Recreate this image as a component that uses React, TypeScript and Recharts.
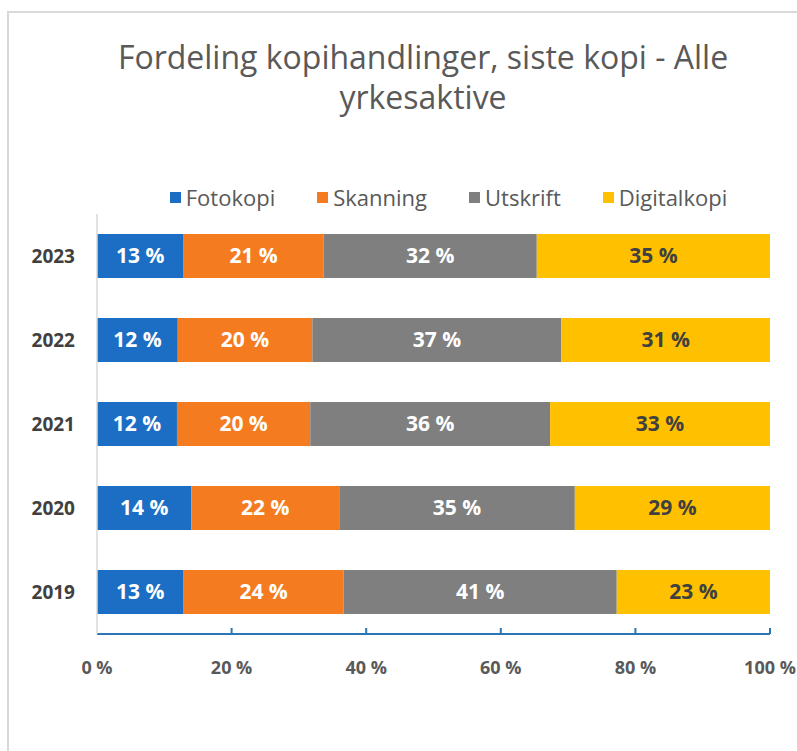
import { BarChart, Bar, XAxis, YAxis, LabelList } from "recharts";

const years = ["2023", "2022", "2021", "2020", "2019"];
const fotokopi = [13, 12, 12, 14, 13];
const skanning = [21, 20, 20, 22, 24];
const utskrift = [32, 37, 36, 35, 41];
const digitalkopi = [35, 31, 33, 29, 23];
const xTicks = [0, 0.2, 0.4, 0.6, 0.8, 1];

const series = [
  { key: "fotokopi", name: "Fotokopi", color: "#1C6EC4", text: "#ffffff" },
  { key: "skanning", name: "Skanning", color: "#F47B20", text: "#ffffff" },
  { key: "utskrift", name: "Utskrift", color: "#7F7F7F", text: "#ffffff" },
  { key: "digitalkopi", name: "Digitalkopi", color: "#FFC000", text: "#404040" },
];

const data = years.map((year, i) => ({
  year,
  fotokopi: fotokopi[i],
  skanning: skanning[i],
  utskrift: utskrift[i],
  digitalkopi: digitalkopi[i],
}));

const FONT = "'Open Sans', sans-serif";
const TICK_GAP = 34;

// x ticks drawn by hand so the tick marks point up into the plot
const XTick = ({ x, y, payload }: any) => {
  const axisY = y - TICK_GAP;
  return (
    <g>
      {payload.value > 0 && (
        <line x1={x} x2={x} y1={axisY} y2={axisY - 6} stroke="#2E75B6" strokeWidth={2} />
      )}
      <text
        x={x}
        y={y}
        dy="0.35em"
        textAnchor="middle"
        fill="#595959"
        fontSize={18}
        fontWeight={700}
        fontFamily={FONT}
      >
        {`${Math.round(payload.value * 100)} %`}
      </text>
    </g>
  );
};

export default function App() {
  return (
    <div
      style={{
        position: "absolute",
        left: 0,
        top: 0,
        width: 797,
        height: 751,
        overflow: "hidden",
        background: "#fff",
        fontFamily: FONT,
      }}
    >
      {/* frame */}
      <div
        style={{
          position: "absolute",
          left: 7,
          top: 11,
          width: 840,
          height: 800,
          border: "2px solid #D9D9D9",
        }}
      />

      {/* Title */}
      <div
        style={{
          position: "absolute",
          left: 0,
          top: 37,
          width: 846,
          textAlign: "center",
          fontSize: 32,
          lineHeight: "40px",
          color: "#595959",
        }}
      >
        Fordeling kopihandlinger, siste kopi - Alle
        <br />
        yrkesaktive
      </div>

      {/* Legend */}
      <div
        style={{
          position: "absolute",
          left: 0,
          top: 182,
          width: 797,
          display: "flex",
          justifyContent: "center",
          paddingLeft: 100,
          boxSizing: "border-box",
          gap: 42,
          fontSize: 22,
          color: "#595959",
        }}
      >
        {series.map((s) => (
          <div key={s.key} style={{ display: "flex", alignItems: "center", gap: 5 }}>
            <span style={{ width: 11, height: 11, background: s.color, display: "inline-block" }} />
            <span>{s.name}</span>
          </div>
        ))}
      </div>

      <div style={{ position: "absolute", left: 0, top: 0 }}>
        <BarChart
          width={797}
          height={751}
          data={data}
          layout="vertical"
          stackOffset="expand"
          barSize={44}
          margin={{ top: 214, right: 27, bottom: 57, left: 0 }}
        >
          <XAxis
            type="number"
            domain={[0, 1]}
            ticks={xTicks}
            interval={0}
            axisLine={{ stroke: "#2E75B6", strokeWidth: 2 }}
            tickLine={false}
            tickSize={0}
            tickMargin={TICK_GAP}
            height={60}
            tick={<XTick />}
          />
          <YAxis
            type="category"
            dataKey="year"
            width={97}
            axisLine={{ stroke: "#D9D9D9", strokeWidth: 1.5 }}
            tickLine={false}
            tickSize={0}
            tickMargin={22}
            tick={{ fill: "#404040", fontSize: 19, fontWeight: 700, fontFamily: FONT }}
          />
          {series.map((s) => (
            <Bar key={s.key} dataKey={s.key} stackId="a" fill={s.color} isAnimationActive={false}>
              <LabelList
                dataKey={s.key}
                position="center"
                formatter={(v: any) => `${v} %`}
                fill={s.text}
                fontSize={21}
                fontWeight={700}
                fontFamily={FONT}
              />
            </Bar>
          ))}
        </BarChart>
      </div>
    </div>
  );
}
